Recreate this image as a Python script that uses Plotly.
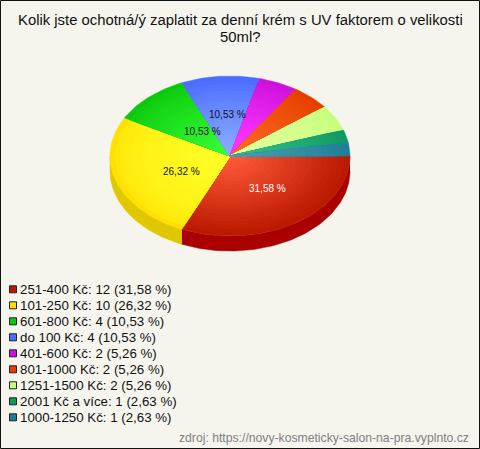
import math
import plotly.graph_objects as go

categories = ["251-400 Kč", "101-250 Kč", "601-800 Kč", "do 100 Kč", "401-600 Kč",
              "801-1000 Kč", "1251-1500 Kč", "2001 Kč a více", "1000-1250 Kč"]
counts = [12, 10, 4, 4, 2, 2, 2, 1, 1]
percent_labels = ["31,58", "26,32", "10,53", "10,53", "5,26", "5,26", "5,26", "2,63", "2,63"]

title_lines = ["Kolik jste ochotná/ý zaplatit za denní krém s UV faktorem o velikosti", "50ml?"]
source_text = "zdroj: https://novy-kosmeticky-salon-na-pra.vyplnto.cz"

rim_colors = ["#BB1A00", "#FFE000", "#0CC80C", "#4A6CFF", "#CC10DD", "#E63E00", "#C6FF7C", "#0E9A62", "#1E7F98"]
center_colors = ["#FF5A3A", "#FFFF26", "#36FF36", "#8CAEFF", "#FF38FF", "#FF6A22", "#E4FFA0", "#38C090", "#4CA0B0"]
side_colors = ["#AA0000", "#E0C800", "#089008", "#3050C0", "#9000A0", "#B03000", "#A0D060", "#087048", "#105868"]
gradient_power = [1.0, 0.45, 0.8, 0.9, 0.8, 0.8, 0.8, 0.9, 0.9]

BG = "#F5F5EE"
CX, CY, RX, RY, DEPTH = 230, 156, 120, 80, 15
STEPS = 22


def hex2rgb(h):
    return tuple(int(h[i:i + 2], 16) for i in (1, 3, 5))


def mix(a, b, t):
    ca, cb = hex2rgb(a), hex2rgb(b)
    return "rgb(%d,%d,%d)" % tuple(round(x + (y - x) * t) for x, y in zip(ca, cb))


def arc(a0, a1, n=None):
    n = n or max(2, int(abs(a1 - a0) / 1.5) + 1)
    return [a0 + (a1 - a0) * i / (n - 1) for i in range(n)]


fig = go.Figure()
total = sum(counts)

# side wall (front half only)
start = 0.0
for v, col in zip(counts, side_colors):
    end = start + 360.0 * v / total
    a0, a1 = max(start, 0), min(end, 180)
    if a1 > a0:
        angs = arc(a0, a1)
        xs = [CX + RX * math.cos(math.radians(a)) for a in angs]
        yt = [CY + RY * math.sin(math.radians(a)) for a in angs]
        fig.add_trace(go.Scatter(
            x=xs + xs[::-1], y=yt + [y + DEPTH for y in yt[::-1]],
            fill="toself", fillcolor=col, mode="lines", line=dict(color=col, width=0.5),
            hoverinfo="skip", showlegend=False))
    start = end

# top surface: nested wedges approximate the radial gradient
start = 0.0
for v, rim, cen, pw in zip(counts, rim_colors, center_colors, gradient_power):
    end = start + 360.0 * v / total
    angs = arc(start, end)
    for s in range(STEPS):
        f = 1 - s / STEPS
        xs = [CX] + [CX + f * RX * math.cos(math.radians(a)) for a in angs] + [CX]
        ys = [CY] + [CY + f * RY * math.sin(math.radians(a)) for a in angs] + [CY]
        c = mix(rim, cen, (s / (STEPS - 1)) ** pw)
        fig.add_trace(go.Scatter(
            x=xs, y=ys, fill="toself", fillcolor=c, mode="lines",
            line=dict(color=c, width=0.4), hoverinfo="skip", showlegend=False))
    start = end

ann = []


def text(x, y, s, size, color="#111111", anchor="left"):
    ann.append(dict(x=x, y=y, xref="x", yref="y", text=s, showarrow=False, xanchor=anchor,
                    yanchor="middle", font=dict(family="Liberation Sans", size=size, color=color)))


text(240, 19.5, title_lines[0], 14.85, anchor="center")
text(240, 36.5, title_lines[1], 14.85, anchor="center")

# slice labels
label_spots = [(267, 188, "#FFFFFF"), (181.5, 171, "#111111"), (202, 131, "#111111"), (227, 114.5, "#111111")]
for (lx, ly, lc), p in zip(label_spots, percent_labels):
    text(lx, ly, p + " %", 10, color=lc, anchor="center")

# legend
LEG_Y, LEG_STEP = 289.3, 16
fig.add_trace(go.Scatter(
    x=[13] * len(categories), y=[LEG_Y + i * LEG_STEP for i in range(len(categories))],
    mode="markers", hoverinfo="skip", showlegend=False,
    marker=dict(symbol="square", size=7, color=rim_colors, line=dict(color="#222222", width=1))))
for i, (c, n, p) in enumerate(zip(categories, counts, percent_labels)):
    text(18, LEG_Y + i * LEG_STEP, f"{c}: {n} ({p} %)", 13.3)

text(471, 438, source_text, 12.2, color="#808080", anchor="right")

fig.update_layout(
    width=480, height=449, margin=dict(l=0, r=0, t=0, b=0), autosize=False,
    paper_bgcolor=BG, plot_bgcolor=BG, annotations=ann,
    xaxis=dict(range=[0, 480], visible=False, fixedrange=True),
    yaxis=dict(range=[449, 0], visible=False, fixedrange=True),
    shapes=[dict(type="rect", xref="x", yref="y", x0=0.5, y0=0.5, x1=479.5, y1=448.5,
                 line=dict(color="#111111", width=1), layer="above")],
)
fig.write_html("out.html", config=dict(displayModeBar=False),
               post_script="document.documentElement.style.margin='0';document.body.style.margin='0';document.body.style.overflow='hidden';")
